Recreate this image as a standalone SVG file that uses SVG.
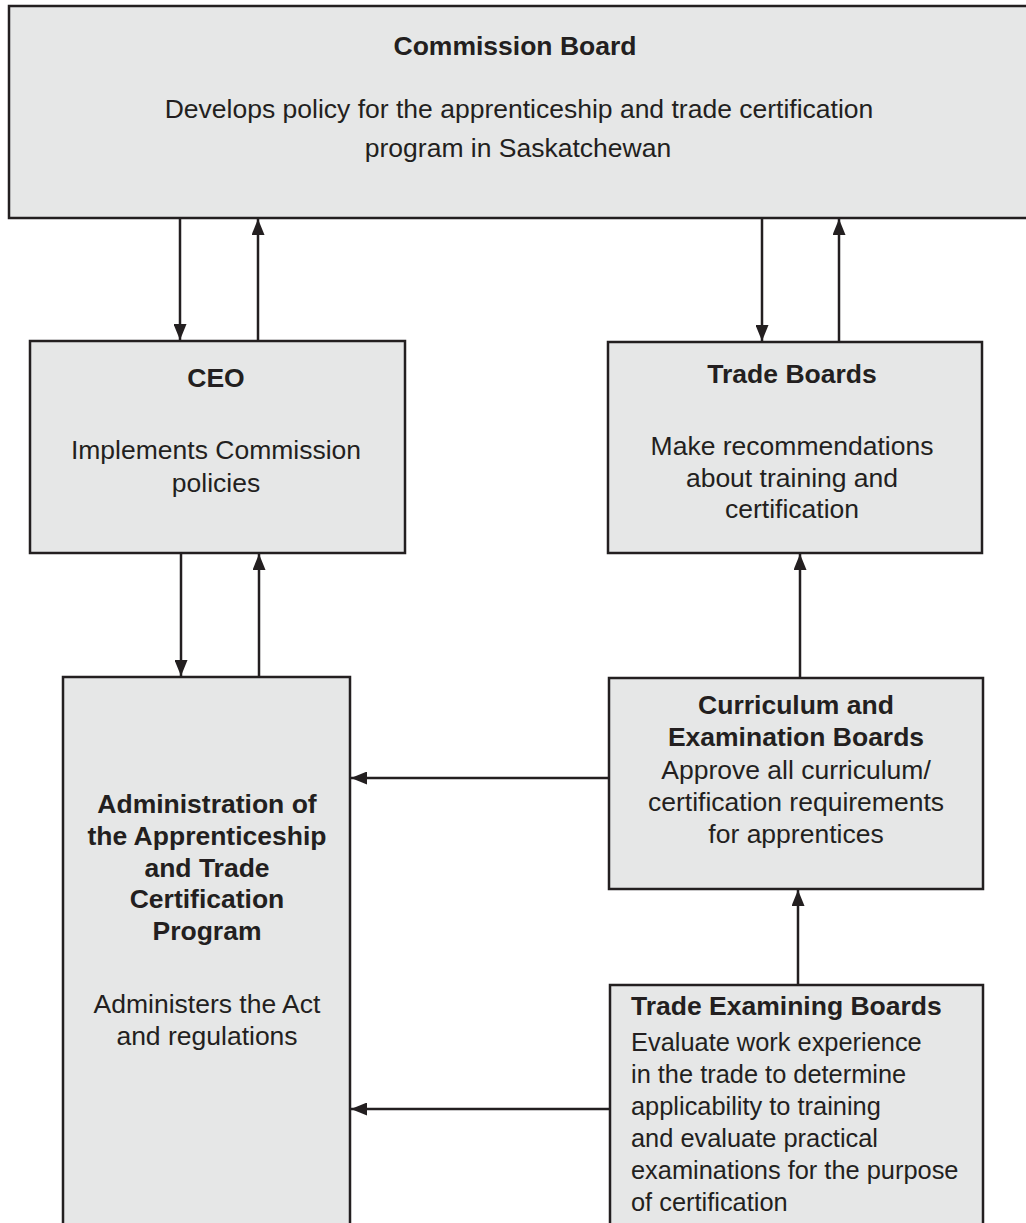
<svg xmlns="http://www.w3.org/2000/svg" width="1026" height="1223" viewBox="0 0 1026 1223">
<style>
.box{fill:#e6e7e7;stroke:#231f20;stroke-width:2.5}
.t{font-family:"Liberation Sans",Arial,Helvetica,sans-serif;font-size:26.5px;fill:#231f20}
.s{font-size:25.4px}
.c{text-anchor:middle}
.b{font-weight:bold}
.ln{stroke:#231f20;stroke-width:2.5;fill:none;marker-end:url(#ah)}
</style>
<defs>
<marker id="ah" viewBox="0 0 16 13" refX="16" refY="6.5" markerWidth="16" markerHeight="13" markerUnits="userSpaceOnUse" orient="auto">
<path d="M0,0 L16,6.5 L0,13 Z" fill="#231f20"/>
</marker>
</defs>
<rect width="1026" height="1223" fill="#ffffff"/>

<g id="commission-board">
<rect class="box" x="9" y="6" width="1030" height="212"/>
<text class="t c b" x="515" y="55">Commission Board</text>
<text class="t c" x="519" y="118">Develops policy for the apprenticeship and trade certification</text>
<text class="t c" x="518" y="157">program in Saskatchewan</text>
</g>

<g id="ceo">
<rect class="box" x="30" y="341" width="375" height="212"/>
<text class="t c b" x="216" y="387">CEO</text>
<text class="t c" x="216" y="459">Implements Commission</text>
<text class="t c" x="216" y="492">policies</text>
</g>

<g id="trade-boards">
<rect class="box" x="608" y="342" width="374" height="211"/>
<text class="t c b" x="792" y="383">Trade Boards</text>
<text class="t c" x="792" y="455">Make recommendations</text>
<text class="t c" x="792" y="487">about training and</text>
<text class="t c" x="792" y="518">certification</text>
</g>

<g id="admin">
<rect class="box" x="63" y="677" width="287" height="560"/>
<text class="t c b" x="207" y="813">Administration of</text>
<text class="t c b" x="207" y="845">the Apprenticeship</text>
<text class="t c b" x="207" y="877">and Trade</text>
<text class="t c b" x="207" y="908">Certification</text>
<text class="t c b" x="207" y="940">Program</text>
<text class="t c" x="207" y="1013">Administers the Act</text>
<text class="t c" x="207" y="1045">and regulations</text>
</g>

<g id="curriculum">
<rect class="box" x="609" y="678" width="374" height="211"/>
<text class="t c b" x="796" y="714">Curriculum and</text>
<text class="t c b" x="796" y="746">Examination Boards</text>
<text class="t c" x="796" y="779">Approve all curriculum/</text>
<text class="t c" x="796" y="811">certification requirements</text>
<text class="t c" x="796" y="843">for apprentices</text>
</g>

<g id="trade-examining">
<rect class="box" x="610" y="985" width="373" height="260"/>
<text class="t b" x="631" y="1015">Trade Examining Boards</text>
<text class="t s" x="631" y="1051">Evaluate work experience</text>
<text class="t s" x="631" y="1083">in the trade to determine</text>
<text class="t s" x="631" y="1115">applicability to training</text>
<text class="t s" x="631" y="1147">and evaluate practical</text>
<text class="t s" x="631" y="1179">examinations for the purpose</text>
<text class="t s" x="631" y="1211">of certification</text>
</g>

<g id="connectors">
<line class="ln" x1="180" y1="219" x2="180" y2="340"/>
<line class="ln" x1="258" y1="340" x2="258" y2="219"/>
<line class="ln" x1="181" y1="554" x2="181" y2="676"/>
<line class="ln" x1="259" y1="676" x2="259" y2="554"/>
<line class="ln" x1="762" y1="219" x2="762" y2="341"/>
<line class="ln" x1="839" y1="341" x2="839" y2="219"/>
<line class="ln" x1="800" y1="677" x2="800" y2="554"/>
<line class="ln" x1="798" y1="984" x2="798" y2="890"/>
<line class="ln" x1="608" y1="778" x2="351" y2="778"/>
<line class="ln" x1="609" y1="1109" x2="351" y2="1109"/>
</g>
</svg>
